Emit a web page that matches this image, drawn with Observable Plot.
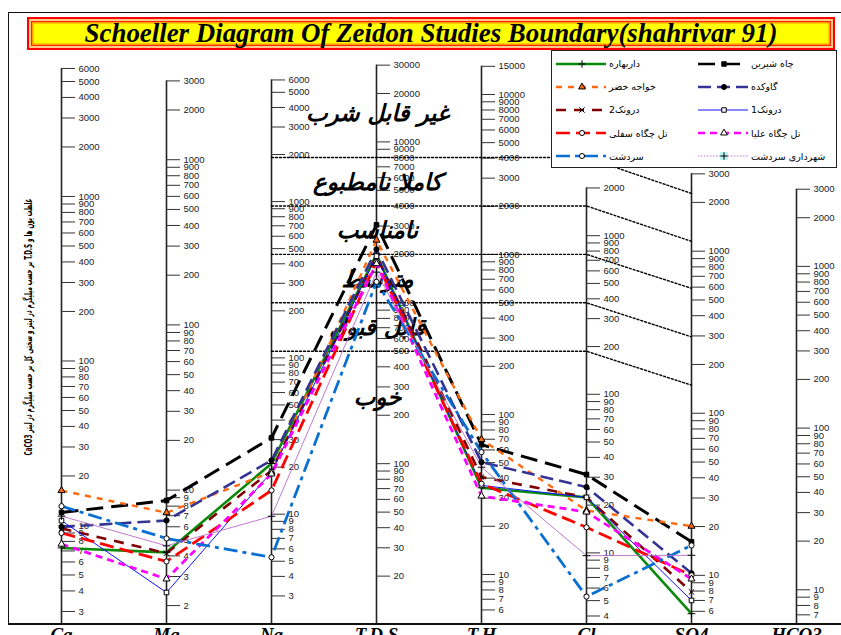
<!DOCTYPE html>
<html lang="fa">
<head>
<meta charset="utf-8">
<title>Schoeller Diagram Of Zeidon Studies Boundary</title>
<script src="https://cdn.jsdelivr.net/npm/d3@7"></script>
<script src="https://cdn.jsdelivr.net/npm/@observablehq/plot@0.6"></script>
<style>
  html, body { margin: 0; padding: 0; background: #fff; }
  #wrap { position: relative; width: 841px; height: 635px; overflow: hidden; background: #fff; }
  #chart { position: absolute; left: 0; top: 0; }
  #frame { position: absolute; left: 8px; top: 12px; width: 900px; height: 609.5px;
           border-left: 1.5px solid #111; border-top: 1.5px solid #111; border-bottom: 2px solid #111;
           pointer-events: none; }
  #title { position: absolute; left: 27px; top: 17px; width: 808px; height: 33px; box-sizing: border-box;
           border: 2px solid #ff0000; background: #ffc98a; padding: 2px; }
  #title div { box-sizing: border-box; height: 100%; border: 1.5px solid #ff2a00;
           box-shadow: inset 0 0 0 1.5px #ff9a00; background: #ffff00;
           display: flex; align-items: center; justify-content: center;
           font: italic bold 20px "Liberation Serif", "Times New Roman", serif; color: #000; white-space: nowrap; }
  #ytitle { position: absolute; left: 28px; top: 327px; width: 0; height: 0; }
  #ytitle div { position: absolute; left: 0; top: 0;
           font: bold 11px "DejaVu Sans Condensed", "DejaVu Sans", sans-serif; color: #000; white-space: nowrap;
           line-height: 1; }
  #legend { position: absolute; left: 551px; top: 50px; width: 286px; height: 118px; box-sizing: border-box;
            border: 1px solid #222; background: #fff; }
  .item { position: absolute; height: 12px; display: flex; align-items: center; }
  .item svg { display: block; }
  .item span { font: 9.5px "DejaVu Sans", sans-serif; color: #000; margin-left: 3px; white-space: nowrap; }
  g[aria-label="tick labels"] text { letter-spacing: 1px; }
</style>
</head>
<body>
<div id="wrap">
  <div id="chart"></div>
  <div id="frame"></div>
  <div id="title"><div>Schoeller Diagram Of Zeidon Studies Boundary(shahrivar 91)</div></div>
  <div id="ytitle"><div dir="rtl"></div></div>
  <div id="legend"></div>
</div>
<script>
// Columns of the diagram (the last one carries an axis but no samples)
const columns = ["Ca", "Mg", "Na", "T.D.S", "T.H", "Cl", "SO4", "HCO3"];
const sampleColumns = columns.slice(0, 7);

// Readings on each axis that sit level with Ca = 1000 and Ca = 10 (mg/l)
const levelHigh = [1000, 599, 1078, 4579, 2304, 1767, 2175, 2706];
const levelLow  = [10, 6.11, 8.47, 41.3, 20.24, 14.89, 20.31, 24.99];

// Tick values printed on each axis
const caTicks   = [6000,5000,4000,3000,2000,1000,900,800,700,600,500,400,300,200,100,90,80,70,60,50,40,30,20,10,9,8,7,6,5,4,3];
const mgTicks   = [3000,2000,1000,900,800,700,600,500,400,300,200,100,90,80,70,60,50,40,30,20,10,9,8,7,6,5,4,3,2];
const naTicks   = [6000,5000,4000,3000,2000,1000,900,800,700,600,500,400,300,200,100,90,80,70,60,50,40,30,20,10,9,8,7,6,5,4,3];
const tdsTicks  = [30000,20000,10000,9000,8000,7000,6000,5000,4000,3000,2000,1000,900,800,700,600,500,400,300,200,100,90,80,70,60,50,40,30,20];
const thTicks   = [15000,10000,9000,8000,7000,6000,5000,4000,3000,2000,1000,900,800,700,600,500,400,300,200,100,90,80,70,60,50,40,30,20,10,9,8,7,6];
const clTicks   = [2000,1000,900,800,700,600,500,400,300,200,100,90,80,70,60,50,40,30,20,10,9,8,7,6,5,4];
const so4Ticks  = [3000,2000,1000,900,800,700,600,500,400,300,200,100,90,80,70,60,50,40,30,20,10,9,8,7,6];
const hco3Ticks = [3000,2000,1000,900,800,700,600,500,400,300,200,100,90,80,70,60,50,40,30,20,10,9,8,7];
const axisTicks = [caTicks, mgTicks, naTicks, tdsTicks, thTicks, clTicks, so4Ticks, hco3Ticks];

// Sample values: Ca, Mg, Na, T.D.S, T.H, Cl, SO4
const sampleNames = ["داربهاره", "چاه شیرین", "خواجه خضر", "گاوکده", "درونک2",
                     "درونک1", "تل چگاه سفلی", "تل چگاه علیا", "سردشت", "شهرداری سردشت"];
const darbahare      = [7.3, 4.2, 21.1, 2000, 34.8, 22.4, 5.8];
const chahShirin     = [12.0, 8.65, 30.8, 3050, 64.7, 31.2, 16.1];
const khajehKhezr    = [16.3, 7.3, 18.6, 2450, 69.8, 18.5, 20.1];
const gavkadeh       = [9.8, 6.55, 22.1, 2150, 50.3, 26.0, 10.3];
const daroonak2      = [9.6, 4.15, 19.0, 1950, 40.6, 22.4, 7.9];
const daroonak1      = [10.7, 2.4, 18.6, 1950, 36.0, 22.4, 7.0];
const telChegahSofla = [9.0, 3.7, 14.2, 1800, 36.9, 14.5, 10.0];
const telChegahOlya  = [7.7, 2.9, 18.1, 1750, 30.9, 18.1, 9.5];
const sardasht       = [13.1, 5.1, 5.3, 1350, 58.1, 5.3, 15.3];
const shahrdari      = [11.4, 4.6, 9.7, 1550, 46.8, 9.6, 13.3];
const sampleValues = [darbahare, chahShirin, khajehKhezr, gavkadeh, daroonak2,
                      daroonak1, telChegahSofla, telChegahOlya, sardasht, shahrdari];

// Drinking-water class limits: T.D.S limits (shared level on Na..Cl) and matching SO4 limits
const tdsLimits = [8000, 4000, 2000, 1000, 500];
const so4Limits = [2270, 1150, 590, 296, 149];
const zoneNames  = ["غیر قابل شرب", "کاملا نامطبوع", "نامناسب", "متوسط", "قابل قبول", "خوب"];
const zoneLevels = [15000, 5600, 2800, 1400, 700, 258];

const yTitle = "غلظت یون ها و T.D.S بر حسب میلیگرم در لیتر و سختی کل بر حسب میلیگرم در لیتر CaCO3";

// Line styles per sample
const sampleColors = ["#0a8a0a", "#000000", "#ff6a10", "#343494", "#800000",
                      "#1010ff", "#ff0000", "#ff00ff", "#0a6fd0", "#b56cc8"];
const sampleDash   = [null, "17,8", "6,6", "13,6", "10,8", null, "14,6", "7,5", "14,5,4,5", null];
const sampleWidth  = [2.6, 3, 2.4, 2.6, 2.6, 1, 2.8, 2.8, 2.8, 0.9];
const sampleSymbol = ["plus", "square", "triangle", "circle", "times", "square", "circle", "triangle", "circle", "plus"];
const sampleFill   = ["#000", "#000", "#ff6a10", "#000", "none", "#fff", "#fff", "#fff", "#fff", "#000"];

// Map a reading on column ci onto the shared logarithmic height (Ca units)
function level(ci, v) {
  const lo = Math.log10(levelLow[ci]), hi = Math.log10(levelHigh[ci]);
  return 10 ** (1 + 2 * (Math.log10(v) - lo) / (hi - lo));
}
const colIndex = c => columns.indexOf(c);

const tickRows = axisTicks.flatMap((ticks, ci) =>
  ticks.map(t => ({col: columns[ci], n: level(ci, t), label: String(t)})));
const axisRows = axisTicks.map((ticks, ci) => ({col: columns[ci], top: level(ci, d3.max(ticks))}));
const yBottom = 2.5;

const boundaryRows = tdsLimits.flatMap((t, i) => {
  const n = level(colIndex("T.D.S"), t);
  return [
    ...["Na", "T.D.S", "T.H", "Cl"].map(col => ({id: i, col, n})),
    {id: i, col: "SO4", n: level(colIndex("SO4"), so4Limits[i])}
  ];
});

const zoneRows = zoneNames.map((name, i) => ({name, col: "T.D.S", n: level(colIndex("T.D.S"), zoneLevels[i])}));

const sampleRows = sampleValues.map(vals =>
  vals.map((v, ci) => ({col: sampleColumns[ci], n: level(ci, v)})));

const lineMarks = sampleRows.map((rows, i) => Plot.line(rows, {
  x: "col", y: "n", stroke: sampleColors[i], strokeWidth: sampleWidth[i],
  strokeDasharray: sampleDash[i] ?? undefined, strokeLinecap: "butt", strokeLinejoin: "miter"
}));
const dotMarks = sampleRows.map((rows, i) => Plot.dot(rows, {
  x: "col", y: "n", symbol: sampleSymbol[i], r: 2.6, stroke: "#000", strokeWidth: 1, fill: sampleFill[i]
}));

const chart = Plot.plot({
  width: 841, height: 635,
  marginTop: 0, marginRight: 0, marginBottom: 11, marginLeft: 0,
  style: {background: "transparent", fontFamily: "'Liberation Sans', Arial, sans-serif", fontSize: "10px", overflow: "visible"},
  x: {type: "point", domain: columns, range: [59, 798], padding: 0, axis: null},
  y: {type: "log", domain: [yBottom, 15540], range: [624, 0], axis: null},
  marks: [
    Plot.ruleX(axisRows, {x: "col", y1: "top", y2: () => yBottom, stroke: "#222", strokeWidth: 1.6}),
    Plot.ruleY(tickRows, {x1: "col", x2: "col", y: "n", insetRight: -14, stroke: "#333", strokeWidth: 1}),
    Plot.text(tickRows, {x: "col", y: "n", text: "label", dx: 17, textAnchor: "start",
      fontSize: 9.5, fill: "#222", ariaLabel: "tick labels"}),
    Plot.line(boundaryRows, {x: "col", y: "n", z: "id", stroke: "#000", strokeWidth: 1.4, strokeDasharray: "2,2"}),
    Plot.text(zoneRows, {x: "col", y: "n", text: "name", dx: 1, fontSize: 23, fontStyle: "italic", fontWeight: "bold",
      fontFamily: "'DejaVu Sans', sans-serif", fill: "#000", ariaLabel: "zones"}),
    ...lineMarks,
    ...dotMarks,
    Plot.text(columns, {x: d => d, frameAnchor: "bottom", dy: 16.5, lineAnchor: "bottom", text: d => d,
      fontSize: 19, fontWeight: "bold", fontStyle: "italic", fontFamily: "'Liberation Serif', serif", fill: "#000"})
  ]
});
document.getElementById("chart").append(chart);

// Natural width of a text box in its current font
function naturalWidth(el) {
  const probe = document.createElement("span");
  probe.textContent = el.textContent;
  probe.style.font = getComputedStyle(el).font;
  probe.style.position = "absolute"; probe.style.visibility = "hidden"; probe.style.whiteSpace = "nowrap";
  document.body.append(probe);
  const w = probe.getBoundingClientRect().width;
  probe.remove();
  return w;
}

// Value-axis title, read bottom to top, squeezed to the column height
const yTitleEl = document.querySelector("#ytitle div");
yTitleEl.textContent = yTitle;
{
  const w = naturalWidth(yTitleEl);
  const k = w > 0 ? 257 / w : 1;
  yTitleEl.style.transform = `translate(-50%, -50%) rotate(-90deg) scaleX(${k.toFixed(3)})`;
}

// Banner title
{
  const el = document.querySelector("#title div");
  const w = naturalWidth(el);
  if (w > 0) el.style.fontSize = (20 * 693 / w).toFixed(2) + "px";
}

// Legend: two columns of five samples
const legend = d3.select("#legend");
sampleNames.forEach((name, i) => {
  const colPos = i % 2, row = Math.floor(i / 2);
  const item = legend.append("div").attr("class", "item")
    .style("left", colPos === 0 ? "4px" : "146px")
    .style("top", (6.5 + 23.2 * row) + "px");
  const svg = item.append("svg").attr("width", 50).attr("height", 12);
  svg.append("line").attr("x1", 0).attr("x2", 50).attr("y1", 6).attr("y2", 6)
    .attr("stroke", sampleColors[i]).attr("stroke-width", Math.min(sampleWidth[i], 2.6))
    .attr("stroke-dasharray", i === 9 ? "1.5,1.5" : sampleDash[i]);
  const sym = {plus: d3.symbolPlus, square: d3.symbolSquare, triangle: d3.symbolTriangle,
               circle: d3.symbolCircle, times: d3.symbolTimes}[sampleSymbol[i]];
  if (i === 9) svg.append("rect").attr("x", 22).attr("y", 2).attr("width", 8).attr("height", 8).attr("fill", "#b8f4f4");
  svg.append("path").attr("transform", "translate(26,6)")
    .attr("d", d3.symbol(sym, 20)())
    .attr("fill", sampleSymbol[i] === "times" ? "none" : sampleFill[i])
    .attr("stroke", "#000").attr("stroke-width", 1);
  item.append("span").text(name);
});
</script>
</body>
</html>
